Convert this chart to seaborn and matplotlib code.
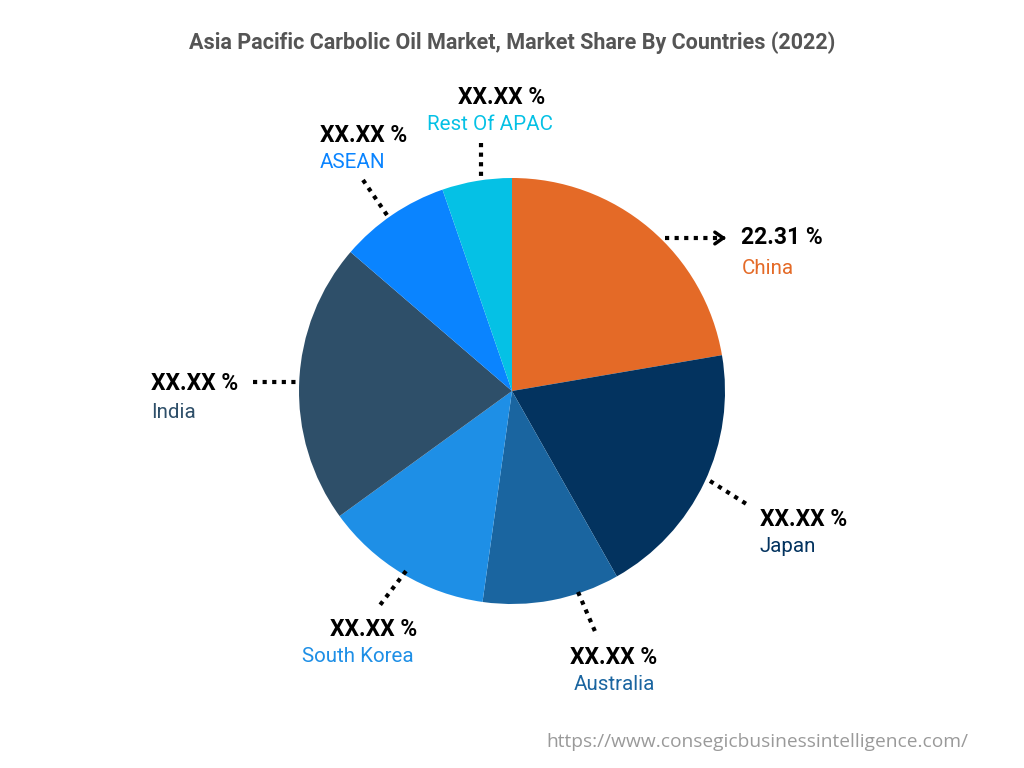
import matplotlib
matplotlib.use("Agg")
import matplotlib.pyplot as plt
import seaborn as sns

# 데이터 (시계 방향, 12시부터)
countries = ["China", "Japan", "Australia", "South Korea", "India", "ASEAN", "Rest Of APAC"]
shares = [22.31, 19.50, 10.40, 12.80, 21.30, 8.40, 5.29]
value_labels = ["22.31 %", "XX.XX %", "XX.XX %", "XX.XX %", "XX.XX %", "XX.XX %", "XX.XX %"]
colors = ["#E46A27", "#03335F", "#1A65A0", "#1E8FE6", "#2E4F69", "#0A84FF", "#05C1E5"]

title = "Asia Pacific Carbolic Oil Market, Market Share By Countries (2022)"
source = "https://www.consegicbusinessintelligence.com/"

W, H = 1024, 768


def Y(py):
    """픽셀 y -> 데이터 y"""
    return H - py


# 라벨 배치 (픽셀 좌표): 값 위치, 이름 위치, 정렬, 리더선 시작/끝
layout = {
    "China":        dict(val=(741, 238), name=(742, 268), ha="left",   line=((665, 238), (720, 238))),
    "Japan":        dict(val=(760, 519), name=(760, 547), ha="left",   line=((710, 481), (748, 505))),
    "Australia":    dict(val=(614, 657), name=(614, 685), ha="center", line=((578, 592), (597, 636))),
    "South Korea":  dict(val=(417, 629), name=(414, 657), ha="right",  line=((406, 571), (377, 609))),
    "India":        dict(val=(151, 383), name=(151, 412), ha="left",   line=((253, 382), (300, 382))),
    "ASEAN":        dict(val=(320, 135), name=(320, 163), ha="left",   line=((363, 180), (389, 218))),
    "Rest Of APAC": dict(val=(502, 97),  name=(490, 125), ha="center", line=((481, 143), (481, 178))),
}

sns.set_theme(style="white")
plt.rcParams["font.family"] = ["Roboto", "DejaVu Sans"]

fig = plt.figure(figsize=(W / 100, H / 100), dpi=100)
fig.patch.set_facecolor("white")
ax = fig.add_axes([0, 0, 1, 1])

ax.pie(shares, colors=sns.color_palette(colors), startangle=90, counterclock=False,
       center=(512, Y(391)), radius=213,
       wedgeprops=dict(edgecolor="none", linewidth=0))
ax.set_xlim(0, W)
ax.set_ylim(0, H)
ax.set_aspect("equal")
ax.axis("off")

# 라벨과 점선
for name, val, col in zip(countries, value_labels, colors):
    spec = layout[name]
    (x0, y0), (x1, y1) = spec["line"]
    ax.plot([x0, x1], [Y(y0), Y(y1)], color="black", lw=3,
            linestyle=(0, (1, 1.3)), solid_capstyle="butt", dash_capstyle="butt")
    ax.text(spec["val"][0], Y(spec["val"][1]), val, ha=spec["ha"], va="center",
            fontsize=16.5, fontweight="bold", color="black")
    ax.text(spec["name"][0], Y(spec["name"][1]), name, ha=spec["ha"], va="center",
            fontsize=14.8, color=col)

# 중국 화살표 머리
ax.annotate("", xy=(729, Y(238)), xytext=(719, Y(238)),
            arrowprops=dict(arrowstyle="->,head_length=0.5,head_width=0.35",
                            color="black", lw=2.5))

fig.text(512 / W, 1 - 43 / H, title, ha="center", va="center",
         fontsize=15.5, fontweight="semibold", color="#555555")
fig.text(546 / W, 1 - 742 / H, source, ha="left", va="center",
         fontsize=13.8, color="#9a9a9a", family=["Open Sans", "DejaVu Sans"])

fig.savefig("out.png", dpi=100, facecolor="white")
